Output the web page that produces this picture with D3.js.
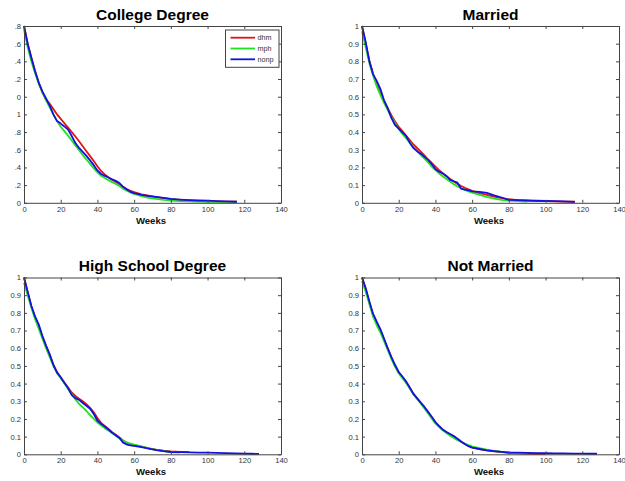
<!DOCTYPE html>
<html>
<head>
<meta charset="utf-8">
<script src="https://cdn.jsdelivr.net/npm/d3@7"></script>
<style>
  body { margin: 0; background: #fff; }
  svg { display: block; }
  text { font-family: "Liberation Sans", Arial, Helvetica, sans-serif; }
</style>
</head>
<body>
<svg id="chart" width="625" height="481"></svg>
<script>
// Survival curves: share of spells still open by week, three groups per panel.
const seriesNames = ["dhm", "mph", "nonp"];
const seriesColors = ["#e01414", "#22e022", "#1212e0"];

const xTicks = [0, 20, 40, 60, 80, 100, 120, 140];
const yTicks = [0, 0.1, 0.2, 0.3, 0.4, 0.5, 0.6, 0.7, 0.8, 0.9, 1];
const yTickLabels = ["0", "0.1", "0.2", "0.3", "0.4", "0.5", "0.6", "0.7", "0.8", "0.9", "1"];
const collegeYTickLabels = ["0", ".2", ".4", ".6", ".8", "1", "0", ".2", ".4", ".6", ".8"];

const panelTitles = ["College Degree", "Married", "High School Degree", "Not Married"];

// Week grids (each series uses the leading part of its grid)
const weeksShort = [0,2,4,6,8,10,12,14,16,18,20,22,24,26,28,30,32,34,36,38,40,42,44,46,48,50,52,54,56,58,60,64,68,72,76,80,85,90,95,100,105,110,116];
const weeksLong  = [0,2,4,6,8,10,12,14,16,18,20,22,24,26,28,30,32,34,36,38,40,42,44,46,48,50,52,54,56,58,60,64,68,72,76,80,85,90,95,100,105,110,115,120,124,128];

// College Degree
const collegeDhm = [1.0,0.9,0.82,0.745,0.68,0.625,0.585,0.56,0.53,0.5,
  0.475,0.45,0.425,0.4,0.375,0.348,0.32,0.292,0.264,0.236,
  0.207,0.18,0.16,0.145,0.13,0.118,0.105,0.09,0.078,0.068,
  0.06,0.048,0.04,0.032,0.026,0.02,0.016,0.013,0.011,0.009,
  0.008,0.007,0.006];
const collegeMph = [0.98,0.88,0.8,0.735,0.675,0.625,0.58,0.54,0.5,0.462,
  0.43,0.405,0.38,0.352,0.325,0.298,0.27,0.245,0.22,0.195,
  0.172,0.153,0.14,0.128,0.117,0.107,0.095,0.08,0.068,0.058,
  0.05,0.038,0.028,0.022,0.017,0.013,0.01,0.008,0.007,0.006,
  0.005,0.005,0.004];
const collegeNonp = [1.0,0.9,0.82,0.745,0.68,0.63,0.59,0.55,0.5,0.462,
  0.448,0.432,0.414,0.378,0.338,0.31,0.288,0.265,0.24,0.213,
  0.183,0.163,0.152,0.143,0.132,0.124,0.112,0.09,0.075,0.062,
  0.055,0.045,0.038,0.034,0.028,0.022,0.018,0.015,0.013,0.012,
  0.01,0.008,0.006];

// Married
const marriedDhm = [1.0,0.9,0.805,0.73,0.67,0.62,0.575,0.535,0.495,0.46,
  0.43,0.405,0.38,0.355,0.33,0.31,0.29,0.268,0.245,0.225,
  0.205,0.185,0.167,0.15,0.135,0.12,0.107,0.095,0.085,0.076,
  0.068,0.055,0.045,0.035,0.027,0.02,0.015,0.012,0.01,0.009,
  0.008,0.007,0.006];
const marriedMph = [0.97,0.88,0.79,0.72,0.66,0.61,0.565,0.525,0.485,0.45,
  0.418,0.39,0.365,0.34,0.315,0.292,0.27,0.25,0.228,0.205,
  0.185,0.166,0.15,0.135,0.12,0.105,0.093,0.082,0.073,0.065,
  0.058,0.045,0.033,0.024,0.017,0.012,0.009,0.007];
const marriedNonp = [1.0,0.91,0.8,0.728,0.69,0.645,0.58,0.535,0.48,0.44,
  0.42,0.398,0.378,0.34,0.31,0.292,0.278,0.26,0.243,0.218,
  0.19,0.176,0.166,0.152,0.13,0.122,0.114,0.08,0.074,0.07,
  0.065,0.062,0.056,0.042,0.03,0.017,0.015,0.013,0.012,0.011,
  0.009,0.008,0.005];

// High School Degree
const highSchoolDhm = [1.0,0.915,0.835,0.775,0.725,0.665,0.612,0.562,0.507,0.465,
  0.435,0.405,0.378,0.35,0.33,0.315,0.3,0.283,0.263,0.238,
  0.205,0.178,0.16,0.143,0.125,0.11,0.095,0.078,0.065,0.057,
  0.052,0.043,0.034,0.026,0.02,0.016,0.014,0.012];
const highSchoolMph = [0.97,0.9,0.83,0.765,0.71,0.655,0.6,0.55,0.5,0.46,
  0.43,0.4,0.37,0.34,0.31,0.285,0.265,0.245,0.222,0.2,
  0.18,0.163,0.148,0.134,0.12,0.105,0.09,0.078,0.067,0.06,
  0.055,0.045,0.034,0.025,0.018,0.013,0.01];
const highSchoolNonp = [1.0,0.92,0.84,0.78,0.735,0.67,0.615,0.565,0.505,0.462,
  0.436,0.405,0.375,0.335,0.318,0.308,0.29,0.275,0.258,0.228,
  0.19,0.172,0.157,0.14,0.122,0.108,0.092,0.066,0.055,0.05,
  0.048,0.04,0.032,0.024,0.018,0.013,0.012,0.011,0.01,0.009,
  0.008,0.007,0.005,0.004,0.003,0.002];

// Not Married
const notMarriedDhm = [1.0,0.935,0.86,0.79,0.745,0.7,0.65,0.598,0.548,0.502,
  0.463,0.437,0.41,0.377,0.343,0.316,0.29,0.265,0.236,0.205,
  0.178,0.157,0.138,0.124,0.112,0.1,0.086,0.071,0.058,0.047,
  0.039,0.03,0.022,0.017,0.013,0.009,0.006,0.004,0.003,0.002];
const notMarriedMph = [0.98,0.92,0.85,0.78,0.73,0.69,0.64,0.59,0.54,0.495,
  0.458,0.43,0.403,0.372,0.34,0.313,0.287,0.26,0.232,0.203,
  0.175,0.155,0.136,0.12,0.105,0.092,0.08,0.07,0.06,0.052,
  0.045,0.035,0.026,0.019,0.014,0.01,0.007,0.005];
const notMarriedNonp = [1.0,0.94,0.865,0.795,0.75,0.708,0.655,0.6,0.55,0.505,
  0.465,0.44,0.412,0.378,0.342,0.318,0.292,0.268,0.24,0.212,
  0.182,0.16,0.14,0.126,0.115,0.103,0.088,0.072,0.058,0.046,
  0.038,0.03,0.022,0.018,0.014,0.01,0.009,0.008,0.007,0.006,
  0.005,0.005,0.004,0.004,0.003,0.003];

const panels = [
  { title: panelTitles[0], weeks: weeksShort, series: [collegeDhm, collegeMph, collegeNonp], yLabels: collegeYTickLabels, left: 24, top: 26, legend: true },
  { title: panelTitles[1], weeks: weeksShort, series: [marriedDhm, marriedMph, marriedNonp], yLabels: yTickLabels, left: 362, top: 26 },
  { title: panelTitles[2], weeks: weeksLong, series: [highSchoolDhm, highSchoolMph, highSchoolNonp], yLabels: yTickLabels, left: 24, top: 277.5 },
  { title: panelTitles[3], weeks: weeksLong, series: [notMarriedDhm, notMarriedMph, notMarriedNonp], yLabels: yTickLabels, left: 362, top: 277.5 }
];

const W = 257, H = 176.8;
const axisColor = "#444";
const svg = d3.select("#chart");

panels.forEach(p => {
  const g = svg.append("g").attr("transform", `translate(${p.left},${p.top})`);
  const x = d3.scaleLinear().domain([0, 140]).range([0, W]);
  const y = d3.scaleLinear().domain([0, 1]).range([H, 0]);

  // curves
  const line = d3.line().x(d => x(d[0])).y(d => y(d[1]));
  p.series.forEach((vals, i) => {
    const pts = vals.map((v, k) => [p.weeks[k], v]);
    g.append("path").datum(pts)
      .attr("d", line)
      .attr("fill", "none")
      .attr("stroke", seriesColors[i])
      .attr("stroke-width", 1.8)
      .attr("stroke-linejoin", "round");
  });

  // axes with inward ticks on all four sides
  const tickFmtY = (d, i) => p.yLabels[i];
  const ax = (gen) => gen.tickSizeInner(-3).tickSizeOuter(0).tickPadding(5);
  const bottom = g.append("g").attr("transform", `translate(0,${H})`)
    .call(ax(d3.axisBottom(x).tickValues(xTicks).tickFormat(d3.format("d"))));
  const top = g.append("g").call(ax(d3.axisTop(x).tickValues(xTicks).tickFormat("")));
  const leftAx = g.append("g").call(ax(d3.axisLeft(y).tickValues(yTicks).tickFormat(tickFmtY)));
  const rightAx = g.append("g").attr("transform", `translate(${W},0)`)
    .call(ax(d3.axisRight(y).tickValues(yTicks).tickFormat("")));

  [bottom, top, leftAx, rightAx].forEach(a => {
    a.select(".domain").attr("stroke", axisColor).attr("stroke-width", 1);
    a.selectAll(".tick line").attr("stroke", axisColor);
    a.selectAll(".tick text").attr("fill", "#333").attr("font-size", 7.6);
  });
  bottom.selectAll(".tick text").attr("dy", "0.71em").attr("y", 3.6);
  leftAx.selectAll(".tick text").attr("x", -3);

  // title and x label
  g.append("text").attr("x", W / 2).attr("y", -6.5)
    .attr("text-anchor", "middle").attr("font-size", 15.5).attr("font-weight", "bold")
    .attr("fill", "#000").text(p.title);
  g.append("text").attr("x", W / 2 - 1.5).attr("y", H + 21)
    .attr("text-anchor", "middle").attr("font-size", 9.6).attr("font-weight", "bold")
    .attr("fill", "#111").text("Weeks");

  if (p.legend) {
    const lg = g.append("g").attr("transform", `translate(${W - 55.5},4)`);
    lg.append("rect").attr("x", 0).attr("y", 0).attr("width", 53.5).attr("height", 37.3)
      .attr("fill", "#fff").attr("stroke", axisColor).attr("stroke-width", 1);
    seriesNames.forEach((name, i) => {
      const yy = 7.7 + i * 10.8;
      lg.append("line").attr("x1", 5).attr("x2", 29.5).attr("y1", yy).attr("y2", yy)
        .attr("stroke", seriesColors[i]).attr("stroke-width", 1.8);
      lg.append("text").attr("x", 32).attr("y", yy).attr("dy", "0.35em")
        .attr("font-size", 7.2).attr("fill", "#333").text(name);
    });
  }
});
</script>
</body>
</html>
